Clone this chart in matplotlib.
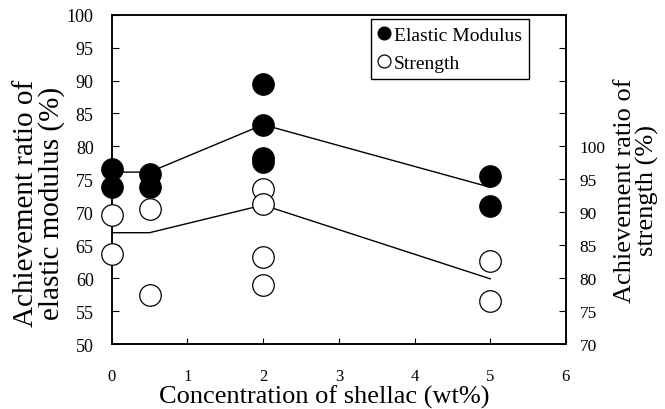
import matplotlib.pyplot as plt

plt.rcParams['font.family'] = ['Liberation Serif', 'DejaVu Serif']

# datos
conc_mod = [0, 0, 0.5, 0.5, 2, 2, 2, 2, 5, 5]
modulo = [76.6, 73.8, 75.8, 73.9, 89.5, 83.3, 78.2, 77.7, 75.5, 70.9]

conc_res = [0, 0, 0.5, 0.5, 2, 2, 2, 2, 5, 5]
resistencia = [89.6, 83.7, 90.5, 77.5, 93.5, 91.2, 83.2, 79.0, 82.6, 76.5]

# lineas de promedio
conc_media = [0, 0.5, 2, 5]
media_mod = [76.1, 76.1, 83.3, 73.8]
media_res = [86.9, 86.9, 91.1, 79.9]

yticks_izq = [50, 55, 60, 65, 70, 75, 80, 85, 90, 95, 100]
yticks_der = [70, 75, 80, 85, 90, 95, 100, 105, 110, 115, 120]
etiquetas_der = ['70', '75', '80', '85', '90', '95', '100', '', '', '', '']

fig = plt.figure(figsize=(6.65, 4.1), dpi=100)
ax1 = fig.add_axes([0.168, 0.1585, 0.683, 0.8032])
ax2 = ax1.twinx()

ax1.plot(conc_media, media_mod, color='black', lw=1.0, zorder=1)
ax1.plot(conc_mod, modulo, 'o', ms=15.5, mfc='black', mec='black', mew=0.8,
         clip_on=False, zorder=3, label='Elastic Modulus')
ax2.plot(conc_media, media_res, color='black', lw=1.0, zorder=1)
ax2.plot(conc_res, resistencia, 'o', ms=15.5, mfc='white', mec='black', mew=0.9,
         clip_on=False, zorder=3, label='Strength')

ax1.set_xlim(0, 6)
ax1.set_ylim(50, 100)
ax2.set_ylim(70, 120)
ax1.set_xticks(range(7))
ax1.set_yticks(yticks_izq)
ax2.set_yticks(yticks_der)
ax2.set_yticklabels(etiquetas_der)

ax1.tick_params(axis='x', direction='in', length=4, width=0.8, pad=17, labelsize=12)
ax1.tick_params(axis='y', direction='in', length=5, width=0.8, pad=13, labelsize=13)
ax2.tick_params(axis='y', direction='in', length=5, width=0.8, pad=10, labelsize=12.5)
for a in (ax1, ax2):
    for s in a.spines.values():
        s.set_linewidth(1.1)

ax1.set_xlabel('Concentration of shellac (wt%)', fontsize=19)
ax1.xaxis.set_label_coords(0.468, -0.122)
fig.text(0.059, 0.505, 'Achievement ratio of\nelastic modulus (%)', rotation=90,
         ha='center', va='center', fontsize=21, linespacing=0.98)
fig.text(0.957, 0.535, 'Achievement ratio of\nstrength (%)', rotation=90,
         ha='center', va='center', fontsize=19, linespacing=1.0)

h1, l1 = ax1.get_legend_handles_labels()
h2, l2 = ax2.get_legend_handles_labels()
leg = ax2.legend(h1 + h2, l1 + l2, loc='upper right', bbox_to_anchor=(0.795, 0.951),
                 bbox_transform=fig.transFigure, fontsize=14, markerscale=0.6,
                 handlelength=0.7, handletextpad=0.15, borderpad=0.35,
                 borderaxespad=0, labelspacing=0.55, fancybox=False,
                 framealpha=1, edgecolor='black')
leg.get_frame().set_linewidth(1.0)

fig.savefig('out.png', dpi=100)
